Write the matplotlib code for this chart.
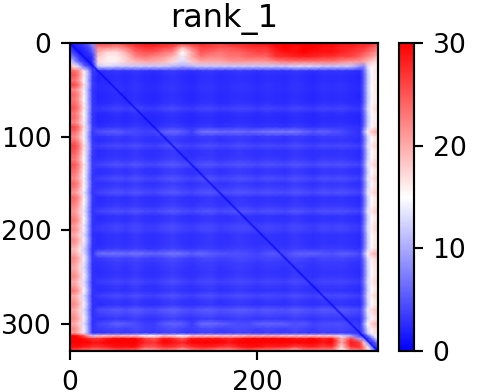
"""
rank_1 的預測對齊誤差熱圖
"""
import numpy as np
import matplotlib
matplotlib.use("Agg")
import matplotlib.pyplot as plt

N_RES = 329
ROWS = [0, 5, 10, 15, 20, 25] + list(range(30, 311, 5)) + [313, 316, 320, 325, 329]
COLS = [0, 5, 10, 15, 20, 24] + list(range(30, 311, 10)) + [314, 318, 322, 326, 329]

# 四個角
corner_top_left = [
    [1, 2, 3, 4, 6, 9],
    [3, 1.5, 2, 3, 4, 7],
    [5, 3, 1.5, 2, 3, 5],
    [8, 6, 3, 2, 2, 3],
    [13, 9, 5, 3, 1.5, 2.5],
    [20, 16, 12, 6, 4, 2],
]
corner_top_right = [
    [28, 28, 27, 26, 26],
    [27, 26, 25, 24, 23],
    [25, 24, 23, 22, 21],
    [23, 22, 21, 20, 19],
    [20, 19, 18, 17, 17],
    [8, 13, 16, 16, 16],
]
corner_bottom_left = [
    [30, 30, 28, 25, 20, 12],
    [30, 30, 30, 29, 28, 27],
    [30, 30, 30, 30, 30, 29],
    [29, 29, 29, 28, 28, 27],
    [26, 25, 24, 23, 23, 22],
]
corner_bottom_right = [
    [2, 6, 11, 14, 15],
    [7, 2, 6, 11, 14],
    [18, 8, 2, 5, 9],
    [22, 16, 8, 2, 4],
    [22, 18, 12, 5, 1],
]

# 上下邊帶（第 30–310 欄）
top_band = [
    [26, 26, 25, 27, 28, 29, 29, 28, 28, 27, 27, 28, 27, 26, 28, 28, 28, 29, 29, 30, 30, 30, 30, 30, 30, 30, 29, 29, 28],
    [22, 22, 21, 23, 26, 27, 27, 26, 25, 19, 23, 26, 26, 25, 25, 26, 27, 27, 27, 29, 30, 29, 30, 30, 29, 29, 28, 28, 27],
    [20, 17, 17, 20, 24, 25, 25, 23, 22, 15, 20, 25, 24, 23, 24, 24, 25, 26, 26, 28, 29, 29, 30, 29, 29, 29, 28, 27, 26],
    [18, 16, 16, 18, 22, 23, 22, 21, 19, 14, 20, 23, 22, 22, 23, 23, 24, 24, 24, 27, 27, 28, 28, 28, 27, 27, 26, 26, 24],
    [17, 16, 16, 18, 19, 20, 20, 19, 17, 13, 18, 20, 20, 20, 21, 21, 21, 21, 21, 22, 23, 23, 23, 23, 23, 23, 22, 21, 21],
    [12, 13, 12, 12, 12, 12, 12, 12, 11, 10, 11, 12, 12, 12, 12, 12, 12, 12, 12, 12, 12, 13, 13, 13, 12, 12, 12, 12, 9],
]
bottom_band = [
    [18, 18, 19, 18, 18, 15, 15, 18, 17, 15, 18, 18, 18, 18, 18, 18, 19, 19, 19, 19, 18, 18, 18, 18, 18, 18, 13, 10, 4],
    [27, 29, 30, 30, 30, 27, 25, 29, 28, 25, 29, 29, 29, 29, 28, 29, 30, 30, 30, 30, 30, 29, 29, 30, 28, 29, 19, 26, 10],
    [29, 30, 30, 30, 30, 28, 27, 30, 29, 28, 30, 30, 30, 30, 29, 30, 30, 30, 30, 30, 30, 30, 30, 30, 29, 30, 20, 29, 26],
    [27, 28, 29, 29, 29, 25, 25, 27, 27, 25, 27, 28, 28, 27, 26, 28, 29, 29, 28, 28, 28, 26, 27, 28, 26, 27, 17, 27, 27],
    [22, 23, 24, 24, 23, 19, 20, 22, 21, 18, 22, 23, 22, 20, 21, 22, 24, 22, 22, 21, 20, 18, 22, 21, 22, 21, 15, 20, 22],
]

# 中央藍色區的橫紋（第 30–310 列）與欄方向起伏
core_row = [
    3.0, 2.6, 2.6, 2.8, 2.8, 2.6, 2.6, 2.8, 3.8, 2.8,
    2.5, 2.6, 3.2, 6.5, 3.4, 3.0, 4.2, 3.0, 3.0, 3.4,
    4.6, 3.2, 3.2, 4.4, 3.2, 3.6, 4.6, 3.0, 3.0, 3.4,
    4.6, 3.0, 3.0, 3.8, 3.8, 3.0, 3.0, 3.0, 3.4, 6.5,
    4.0, 3.4, 3.2, 3.0, 3.2, 4.0, 3.2, 3.0, 4.2, 3.2,
    3.0, 5.0, 4.2, 3.2, 6.0, 4.0, 3.5,
]
core_col = [0.85, 0.95, 1.05, 0.95, 1.1, 0.95, 0.9, 1.05, 1.15, 1, 0.9, 1.05, 1.1, 0.95, 1, 1.1, 1.05, 0.95, 1.05, 1, 0.95, 1.1, 1, 0.9, 1.05, 1, 1.05, 0.95, 0.85]

# 三條明顯橫紋沿欄方向的強度（第 95、225、300 列）
stripe_95 = [0.6, 0.7, 0.7, 0.5, 0.3, 0.3, 0.4, 0.7, 0.8, 0.7, 0.3, 1, 1, 1, 0.9, 0.9, 0.8, 1, 1.1, 1.2, 1.2, 1.1, 0.9, 0.7, 0.8, 0.6, 0.4, 0.2, 0.1]
stripe_225 = [1.1, 1.1, 1, 1, 1, 1, 0.9, 0.9, 1, 1, 0.8, 0.9, 0.6, 0.6, 0.5, 0.4, 0.4, 0.3, 0.5, 0.6, 0.4, 0.6, 0.8, 0.9, 0.6, 0.5, 0.7, 0.7, 0.5]
stripe_300 = [0.5, 0.6, 0.9, 0.8, 0.4, 0.3, 0.3, 0.7, 0.8, 0.8, 0.3, 1, 1, 1, 0.7, 0.4, 0.4, 0.9, 0.9, 0.9, 0.9, 0.5, 0.7, 0.4, 0.4, 0.5, 0.5, 0.3, 0.2]

# 左右邊帶
left_edge = [
    24, 25, 23, 26, 22, 24, 23, 24, 25, 23,
    24, 22, 26, 24, 22, 24, 26, 25, 24, 23,
    25, 24, 23, 22, 24, 23, 21, 24, 23, 22,
    21, 22, 23, 21, 22, 20, 22, 21, 19, 20,
    22, 21, 20, 21, 22, 20, 21, 23, 20, 21,
    22, 20, 21, 22, 20, 22, 21,
]
left_falloff = [1.0, 1.0, 0.88, 0.65, 0.4, 0.14]
right_profile = [6, 12, 15, 16.5, 15.5]

# 組合矩陣
core_arr = np.array(core_row)
core = np.outer(core_arr, core_col)
for row, stripe in [(95, stripe_95), (225, stripe_225), (300, stripe_300)]:
    i = (row - 30) // 5
    core[i] = 3 * np.array(core_col) + (core_arr[i] - 3) * np.array(stripe)

middle = np.hstack([
    np.outer(left_edge, left_falloff),
    core,
    np.add.outer(core_arr - 3, right_profile),
])
pae = np.vstack([
    np.hstack([corner_top_left, top_band, corner_top_right]),
    middle,
    np.hstack([corner_bottom_left, bottom_band, corner_bottom_right]),
])

plt.rcParams["font.size"] = 19.2
fig = plt.figure(figsize=(4.84, 3.92), dpi=100)
ax = fig.add_axes([70 / 484, 1 - 351 / 392, 308 / 484, 308 / 392])
cax = fig.add_axes([399 / 484, 1 - 351 / 392, 15 / 484, 308 / 392])

mesh = ax.pcolormesh(COLS, ROWS, pae, shading="gouraud", cmap="bwr", vmin=0, vmax=30, rasterized=True)
# 對角線
ax.plot([0, N_RES], [0, N_RES], color="#0000ff", lw=1.5, alpha=0.6)
ax.set_xlim(0, N_RES)
ax.set_ylim(N_RES, 0)
ax.set_xticks([0, 200])
ax.set_yticks([0, 100, 200, 300])
ax.set_title("rank_1", fontsize=23, pad=11.5)

cb = fig.colorbar(mesh, cax=cax)
cb.set_ticks([0, 10, 20, 30])

for a in [ax, cax]:
    a.tick_params(width=1.54, length=6.7, pad=6.7)
    for s in a.spines.values():
        s.set_linewidth(1.54)
cb.outline.set_linewidth(1.54)

fig.savefig("out.png", dpi=100)
